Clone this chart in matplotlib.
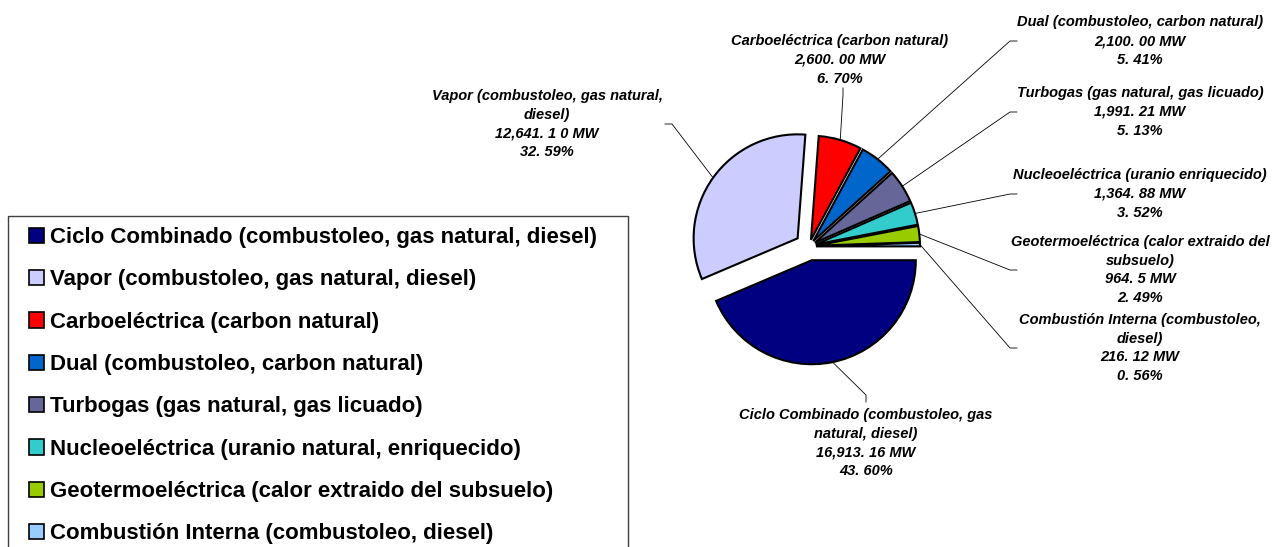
import matplotlib
matplotlib.use('Agg')
import numpy as np
import matplotlib.pyplot as plt
from matplotlib.patches import Patch, Rectangle

plt.rcParams['font.family'] = ['Liberation Sans', 'DejaVu Sans']

# datos de capacidad instalada
tipos = ['Ciclo Combinado (combustoleo, gas\nnatural, diesel)',
         'Vapor (combustoleo, gas natural,\ndiesel)',
         'Carboeléctrica (carbon natural)',
         'Dual (combustoleo, carbon natural)',
         'Turbogas (gas natural, gas licuado)',
         'Nucleoeléctrica (uranio enriquecido)',
         'Geotermoeléctrica (calor extraido del\nsubsuelo)',
         'Combustión Interna (combustoleo,\ndiesel)']
leyenda = ['Ciclo Combinado (combustoleo, gas natural, diesel)',
           'Vapor (combustoleo, gas natural, diesel)',
           'Carboeléctrica (carbon natural)',
           'Dual (combustoleo, carbon natural)',
           'Turbogas (gas natural, gas licuado)',
           'Nucleoeléctrica (uranio natural, enriquecido)',
           'Geotermoeléctrica (calor extraido del subsuelo)',
           'Combustión Interna (combustoleo, diesel)']
mw = [16913.16, 12641.10, 2600.00, 2100.00, 1991.21, 1364.88, 964.5, 216.12]
mw_txt = ['16,913. 16 MW', '12,641. 1 0 MW', '2,600. 00 MW', '2,100. 00 MW',
          '1,991. 21 MW', '1,364. 88 MW', '964. 5 MW', '216. 12 MW']
pct_txt = ['43. 60%', '32. 59%', '6. 70%', '5. 41%', '5. 13%', '3. 52%', '2. 49%', '0. 56%']
colores = ['#000080', '#CCCCFF', '#FF0000', '#0066CC', '#666699', '#33CCCC', '#99CC00', '#99CCFF']

W, H = 1284, 547
fig = plt.figure(figsize=(W / 100, H / 100), dpi=100)
ax = fig.add_axes([0, 0, 1, 1])

# pixel coordinates, y pointing down
explode = [14, 14, 7, 7, 7, 7, 7, 7]
wedges, _ = ax.pie(mw, colors=colores, startangle=0, counterclock=True,
                   explode=explode, radius=104, center=(809, 246.5),
                   wedgeprops=dict(edgecolor='black', linewidth=1.5))
ax.set_xlim(0, W)
ax.set_ylim(H, 0)
ax.set_aspect('auto')
ax.axis('off')

# label block centres, leader end points and stub direction
label_xy = [(866, 443), (547, 124), (840, 60), (1140, 41),
            (1140, 112), (1140, 194), (1140, 270), (1140, 348)]
leader_end = [(866, 402), (665, 124), (843, 88), (1017, 41),
              (1017, 112), (1017, 194), (1017, 270), (1017, 348)]
stub = [(0, -7), (7, 0), (0, 7), (-7, 0), (-7, 0), (-7, 0), (-7, 0), (-7, 0)]

for w, t, m, p, (tx, ty), (ex, ey), (sx, sy) in zip(wedges, tipos, mw_txt, pct_txt,
                                                     label_xy, leader_end, stub):
    ax.text(tx, ty, t + '\n' + m + '\n' + p, ha='center', va='center',
            multialignment='center', fontsize=10.5, fontweight='bold',
            fontstyle='italic', linespacing=1.42)
    ang = np.deg2rad((w.theta1 + w.theta2) / 2)
    cx, cy = w.center
    axp = cx + w.r * np.cos(ang)
    ayp = cy + w.r * np.sin(ang)
    ax.plot([axp, ex + sx, ex], [ayp, ey + sy, ey], color='black', lw=0.6)

ax.add_patch(Rectangle((8, 216), 620, 345, fill=False, edgecolor='#404040', lw=1))

handles = [Patch(facecolor=c, edgecolor='black', linewidth=1.2) for c in colores]
fig.legend(handles, leyenda, loc='upper left', bbox_to_anchor=(29 / W, 1 - 227 / H),
           frameon=False, prop=dict(weight='bold', size=16),
           handlelength=0.68, handleheight=0.68, handletextpad=0.28,
           labelspacing=0.96, borderpad=0, borderaxespad=0)

fig.savefig('out.png', dpi=100)
